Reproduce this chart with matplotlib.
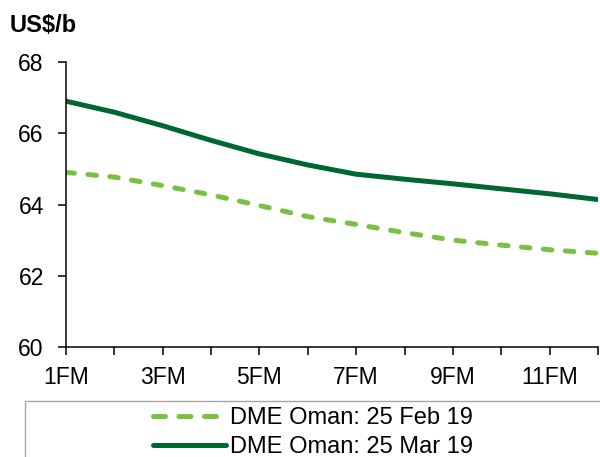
import matplotlib
matplotlib.use('Agg')
import matplotlib.pyplot as plt
from matplotlib.lines import Line2D
from matplotlib.patches import Rectangle

plt.rcParams['font.family'] = ['Liberation Sans', 'DejaVu Sans']

# 数据：DME Oman 远期曲线 (US$/b)
months = ['1FM', '2FM', '3FM', '4FM', '5FM', '6FM', '7FM', '8FM', '9FM', '10FM', '11FM', '12FM']
feb_19 = [64.90, 64.77, 64.53, 64.27, 63.97, 63.66, 63.44, 63.21, 63.00, 62.86, 62.73, 62.63]
mar_19 = [66.90, 66.59, 66.21, 65.80, 65.42, 65.11, 64.85, 64.71, 64.58, 64.44, 64.30, 64.14]
labels = ['DME Oman: 25 Feb 19', 'DME Oman: 25 Mar 19']

light_green = '#7AC143'
dark_green = '#006633'

fig = plt.figure(figsize=(6, 4.57), dpi=100)
ax = fig.add_axes([66 / 600, 1 - 347 / 457, (598 - 66) / 600, (347 - 62) / 457])

x = list(range(len(months)))
ax.plot(x, feb_19, color=light_green, linewidth=3.6, linestyle=(0, (1.7, 2.7)),
        dash_capstyle='round')
ax.plot(x, mar_19, color=dark_green, linewidth=3.6, solid_capstyle='round')

ax.set_xlim(0, len(months) - 1)
ax.set_ylim(60, 68)
ax.set_yticks([60, 62, 64, 66, 68])
ax.set_xticks(x)
ax.set_xticklabels([m if i % 2 == 0 else '' for i, m in enumerate(months)])

for s in ['top', 'right']:
    ax.spines[s].set_visible(False)
for s in ['left', 'bottom']:
    ax.spines[s].set_linewidth(1.1)
ax.tick_params(axis='both', direction='out', length=6, width=1.1, labelsize=16.5, colors='black')
ax.tick_params(axis='x', pad=8)
ax.tick_params(axis='y', pad=10)

fig.text(10 / 600, 1 - 26 / 457, 'US$/b', fontsize=17, fontweight='bold', va='center', ha='left')

# 图例框（下方被裁切）
fig.patches.append(Rectangle((25 / 600, -0.1), 1.0, 1 - 401 / 457 + 0.1, transform=fig.transFigure,
                             facecolor='white', edgecolor='#A6A6A6', linewidth=1.0, zorder=0))
h1 = Line2D([], [], color=light_green, linewidth=3.6, linestyle=(0, (2.4, 2.7)), dash_capstyle='round')
h2 = Line2D([], [], color=dark_green, linewidth=3.6, solid_capstyle='round')
leg = fig.legend(handles=[h1, h2], labels=labels, loc='upper left',
                 bbox_to_anchor=(153 / 600, 1 - 407 / 457),
                 frameon=False, fontsize=17, handlelength=3.1, handletextpad=0.17,
                 labelspacing=0.3, borderaxespad=0, borderpad=0)

fig.savefig('out.png', dpi=100)
